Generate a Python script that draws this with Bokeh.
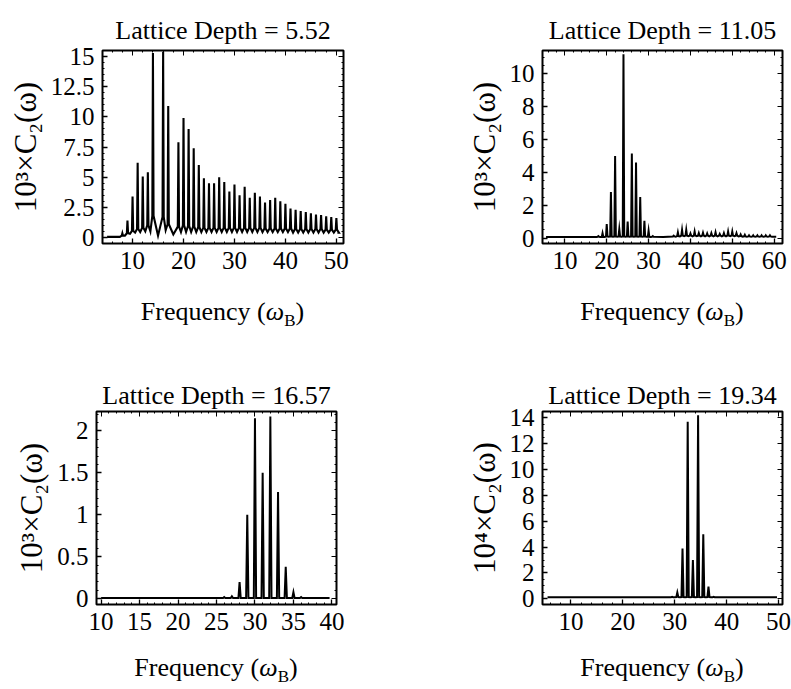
import numpy as np
from bokeh.plotting import figure
from bokeh.models import FixedTicker, LinearAxis, Range1d, Div
from bokeh.layouts import column, row
from bokeh.embed import file_html
from bokeh.resources import INLINE

FONT = "Liberation Serif"

# ---------------- data ----------------
titles = ["Lattice Depth = 5.52", "Lattice Depth = 11.05",
          "Lattice Depth = 16.57", "Lattice Depth = 19.34"]
y_titles = ["10³×C₂(ω)", "10³×C₂(ω)", "10³×C₂(ω)", "10⁴×C₂(ω)"]
x_title_html = "Frequency (<i>&omega;</i><sub style='font-size:17px'>B</sub>)"

# Panel 1 : depth 5.52
freq_1 = [8, 9, 10, 11, 12, 13, 14, 16, 17, 19, 20, 21, 22, 23, 24, 25, 26, 27, 28, 29,
          30, 31, 32, 33, 34, 35, 36, 37, 38, 39, 40, 41, 42, 43, 44, 45, 46, 47, 48, 49, 50]
peak_1 = [0.35, 1.4, 3.4, 6.2, 5.05, 5.4, 15.3, 15.4, 10.9, 7.9, 9.9, 9.0, 7.4, 6.0, 4.9,
          4.5, 4.5, 5.0, 4.6, 3.8, 4.4, 3.5, 4.2, 3.3, 3.7, 3.4, 2.9, 3.1, 3.3, 3.0, 2.8,
          2.4, 2.3, 2.2, 2.1, 2.0, 1.9, 1.85, 1.75, 1.7, 1.6]
foot_1 = [0.15, 0.35, 0.55, 0.7, 0.8, 1.0, 1.8, 1.7, 1.1, 0.9, 1.0, 0.95, 0.9, 0.85,
          0.8, 0.8, 0.8, 0.8, 0.8, 0.8, 0.8, 0.8, 0.8, 0.8, 0.8, 0.8, 0.75, 0.75, 0.75,
          0.75, 0.75, 0.75, 0.7, 0.7, 0.7, 0.7, 0.7, 0.7, 0.65, 0.65, 0.65]
trough_1 = [0.05, 0.15, 0.3, 0.4, 0.45, 0.5, 0.5, 0.15, 0.6, 0.25, 0.45, 0.45, 0.45,
            0.45, 0.45, 0.45, 0.45, 0.45, 0.45, 0.45, 0.45, 0.45, 0.45, 0.45, 0.45, 0.45,
            0.45, 0.45, 0.45, 0.45, 0.45, 0.45, 0.4, 0.4, 0.4, 0.4, 0.4, 0.4, 0.4, 0.4,
            0.4, 0.4]
span_1 = [5.0, 50.2]

# Panel 2 : depth 11.05
freq_2 = [18, 19, 20, 21, 22, 23, 24, 25, 26, 27, 28, 29, 30, 31,
          36, 37, 38, 39, 40, 41, 42, 43, 44, 45, 46, 47, 48, 49, 50, 51, 52, 53,
          54, 55, 56, 57, 58, 59]
peak_2 = [0.12, 0.3, 0.86, 2.8, 5.0, 0.55, 11.2, 1.0, 5.15, 4.6, 2.5, 1.06, 0.45, 0.12,
          0.15, 0.35, 0.5, 0.5, 0.28, 0.4, 0.3, 0.32, 0.28, 0.3, 0.35, 0.25, 0.3, 0.4,
          0.4, 0.3, 0.22, 0.2, 0.17, 0.17, 0.17, 0.17, 0.17, 0.17]
foot_2 = [0.08, 0.08, 0.1, 0.1, 0.1, 0.1, 0.1, 0.1, 0.1, 0.1, 0.1, 0.1, 0.08, 0.08,
          0.1, 0.12, 0.15, 0.15, 0.15, 0.15, 0.15, 0.15, 0.15, 0.15, 0.15, 0.15, 0.15,
          0.15, 0.15, 0.15, 0.12, 0.1, 0.1, 0.1, 0.1, 0.1, 0.1, 0.1]
trough_2 = [0.06, 0.07, 0.07, 0.08, 0.08, 0.08, 0.08, 0.08, 0.08, 0.08, 0.08, 0.08,
            0.08, 0.07, 0.07, 0.08, 0.1, 0.12, 0.12, 0.1, 0.12, 0.1, 0.1, 0.1,
            0.1, 0.1, 0.1, 0.1, 0.12, 0.12, 0.1, 0.09, 0.08, 0.08, 0.08, 0.08,
            0.08, 0.08, 0.08]
span_2 = [5.5, 60.5]

# Panel 3 : depth 16.57
freq_3 = [26, 27, 28, 29, 30, 31, 32, 33, 34, 35, 36]
peak_3 = [0.02, 0.03, 0.2, 1.0, 2.15, 1.5, 2.17, 1.27, 0.38, 0.08, 0.02]
foot_3 = 0.01
trough_3 = 0.01
span_3 = [10.0, 39.7]

# Panel 4 : depth 19.34
freq_4 = [29.5, 30.5, 31.5, 32.5, 33.5, 34.5, 35.5, 36.5, 37.5]
peak_4 = [0.15, 0.5, 3.9, 13.7, 3.0, 14.2, 5.0, 0.95, 0.15]
foot_4 = 0.13
trough_4 = 0.12
span_4 = [5.5, 49.7]

# tick values and labels
xticks = [[10, 20, 30, 40, 50], [10, 20, 30, 40, 50, 60],
          [10, 15, 20, 25, 30, 35, 40], [10, 20, 30, 40, 50]]
yticks = [[0, 2.5, 5, 7.5, 10, 12.5, 15], [0, 2, 4, 6, 8, 10],
          [0, 0.5, 1, 1.5, 2], [0, 2, 4, 6, 8, 10, 12, 14]]
ytick_labels = [["0", "2.5", "5", "7.5", "10", "12.5", "15"],
                ["0", "2", "4", "6", "8", "10"],
                ["0", "0.5", "1", "1.5", "2"],
                ["0", "2", "4", "6", "8", "10", "12", "14"]]


def as_list(v, n):
    return list(v) if isinstance(v, (list, tuple)) else [v] * n


def spectrum(freq, peak, foot, trough, span, hw):
    n = len(freq)
    foot = as_list(foot, n)
    trough = as_list(trough, n + 1)
    xs, ys = [span[0], freq[0] - 0.5], [trough[0], trough[0]]
    for i in range(n):
        f = freq[i]
        if i > 0:
            xs.append((freq[i - 1] + f) / 2.0)
            ys.append(trough[i])
        xs += [f - hw, f, f + hw]
        ys += [foot[i], peak[i], foot[i]]
    xs += [freq[-1] + 0.5, span[1]]
    ys += [trough[n], trough[n]]
    return xs, ys


def panel(idx, data, xr, yr, geom, hw, lw, title_standoff, xminor, yminor):
    width, height, bl, br, bt, bb = geom
    p = figure(width=width, height=height, min_border_left=bl, min_border_right=br,
               min_border_top=bt, min_border_bottom=bb,
               x_range=Range1d(*xr), y_range=Range1d(*yr),
               output_backend="svg", toolbar_location=None, title=titles[idx])
    p.background_fill_color = "white"
    p.border_fill_color = "white"
    p.outline_line_color = "black"
    p.outline_line_width = 2
    p.xgrid.visible = False
    p.ygrid.visible = False

    p.title.text_font = FONT
    p.title.text_font_size = "26px"
    p.title.text_font_style = "normal"
    p.title.text_color = "black"
    p.title.align = "center"
    p.title.standoff = title_standoff

    xs, ys = spectrum(*data, hw)
    p.line(xs, ys, line_color="black", line_width=lw, line_join="miter")

    xt = FixedTicker(ticks=xticks[idx], minor_ticks=xminor)
    yt = FixedTicker(ticks=yticks[idx], minor_ticks=yminor)
    for ax, tk in ((p.xaxis[0], xt), (p.yaxis[0], yt)):
        ax.ticker = tk
        ax.axis_line_color = None
        ax.major_tick_in = 5
        ax.major_tick_out = 0
        ax.minor_tick_in = 2
        ax.minor_tick_out = 0
        ax.major_tick_line_width = 1.3
        ax.major_label_text_font = FONT
        ax.major_label_text_font_size = "25px"
        ax.major_label_text_color = "black"
        ax.major_label_standoff = 8
    p.yaxis[0].major_label_overrides = {v: s for v, s in zip(yticks[idx], ytick_labels[idx])}
    p.xaxis[0].major_label_overrides = {v: str(v) for v in xticks[idx]}

    p.yaxis[0].axis_label = y_titles[idx]
    p.yaxis[0].axis_label_text_font = FONT
    p.yaxis[0].axis_label_text_font_size = "31px"
    p.yaxis[0].axis_label_text_font_style = "normal"
    p.yaxis[0].axis_label_text_color = "black"
    p.yaxis[0].axis_label_standoff = 5

    # frame ticks on top and right (no labels)
    for side, tk in (("above", xt), ("right", yt)):
        ax = LinearAxis(ticker=tk)
        ax.axis_line_color = None
        ax.major_tick_in = 5
        ax.major_tick_out = 0
        ax.minor_tick_in = 2
        ax.minor_tick_out = 0
        ax.major_label_text_color = None
        ax.major_label_text_font_size = "1px"
        ax.major_label_standoff = 0
        p.add_layout(ax, side)
    return p


def xlabel(width, height, pad_left, pad_top):
    style = ("width:%dpx;padding-left:%dpx;padding-top:%dpx;box-sizing:border-box;"
             "text-align:center;font-family:'Liberation Serif';font-size:26px;"
             "line-height:30px;color:black;white-space:nowrap;") % (width, pad_left, pad_top)
    return Div(text="<div style=\"%s\">%s</div>" % (style, x_title_html),
               width=width, height=height, margin=0)


p1 = panel(0, (freq_1, peak_1, foot_1, trough_1, span_1), (4.1, 51.4), (-0.5, 15.5),
           (395, 290, 102, 52, 50, 47), 0.12, 2.1, 11,
           list(range(6, 52, 2)), list(np.arange(0, 15.6, 0.5)))
p2 = panel(1, (freq_2, peak_2, foot_2, trough_2, span_2), (4.65, 62.0), (-0.33, 11.43),
           (396, 290, 147, 9, 50, 47), 0.18, 2.0, 11,
           list(range(6, 62, 2)), list(np.arange(0, 11.4, 0.5)))
p3 = panel(2, (freq_3, peak_3, foot_3, trough_3, span_3), (9.4, 40.6), (-0.068, 2.23),
           (395, 305, 96, 59, 71, 41), 0.15, 2.0, 3,
           list(range(10, 41, 1)), list(np.arange(0, 2.25, 0.1)))
p4 = panel(3, (freq_4, peak_4, foot_4, trough_4, span_4), (4.53, 50.76), (-0.44, 14.5),
           (396, 305, 147, 9, 71, 41), 0.2, 2.0, 3,
           list(range(6, 51, 2)), list(np.arange(0, 14.5, 0.5)))

d1 = xlabel(395, 50, 50, 7)
d2 = xlabel(396, 50, 138, 7)
d3 = xlabel(395, 44, 37, 8)
d4 = xlabel(396, 44, 138, 8)

layout = column(row(column(p1, d1), column(p2, d2)),
                row(column(p3, d3), column(p4, d4)))
open("out.html", "w").write(file_html(layout, INLINE))
